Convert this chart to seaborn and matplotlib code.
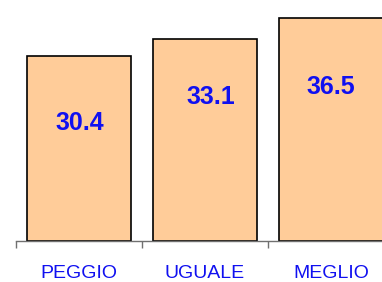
import matplotlib
matplotlib.use("Agg")
import matplotlib.pyplot as plt
import seaborn as sns

# dati
categorie = ["PEGGIO", "UGUALE", "MEGLIO"]
valori = [30.4, 33.1, 36.5]
etichette = ["30.4", "33.1", "36.5"]

# posizione delle etichette (quanto sotto la cima della barra, in unità)
discesa_etichetta = [11.1, 9.5, 11.3]
spost_x = [0.01, 0.05, 0.0]

sns.set_style("white")
plt.rcParams["font.family"] = ["Liberation Sans", "DejaVu Sans"]

fig = plt.figure(figsize=(3.82, 2.82), dpi=100)
ax = fig.add_axes([16 / 382, 41 / 282, 378 / 382, 244 / 282])

sns.barplot(x=categorie, y=valori, ax=ax, color="#FFCC99", saturation=1,
            width=0.825, edgecolor="black", linewidth=1.2)

for i, (v, t) in enumerate(zip(valori, etichette)):
    ax.text(i + spost_x[i], v - discesa_etichetta[i], t, ha="center", va="center",
            fontsize=18, fontweight="bold", color="#1010F0")

ax.set_xlim(-0.5, 2.5)
ax.set_ylim(0, 40)
ax.set_yticks([])
ax.set_xticks([-0.5, 0.5, 1.5, 2.5], minor=True)
ax.tick_params(axis="x", which="major", bottom=False, length=0, pad=17,
               labelsize=14, labelcolor="#1010F0")
ax.tick_params(axis="x", which="minor", bottom=True, length=5, width=1,
               color="#707070", direction="out")

for s in ["top", "right", "left"]:
    ax.spines[s].set_visible(False)
ax.spines["bottom"].set_color("#707070")
ax.spines["bottom"].set_linewidth(1)
ax.set_xlabel("")
ax.set_ylabel("")

fig.savefig("out.png", dpi=100)
